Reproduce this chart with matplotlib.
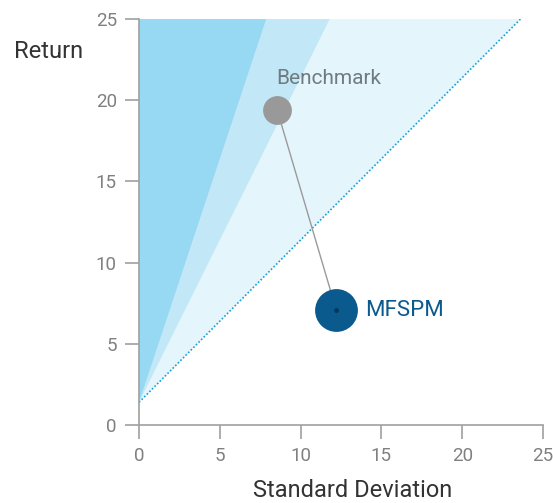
import numpy as np
import matplotlib.pyplot as plt

plt.rcParams['font.family'] = ['Roboto', 'DejaVu Sans']

# Sharpe-style lines from the risk-free rate
risk_free = 1.4
slopes = [3.0, 2.0, 1.0]
wedge_colors = ['#97d9f2', '#c2e8f7', '#e5f5fc']

# points (standard deviation, return)
names = ['Benchmark', 'MFSPM']
std_dev = [8.55, 12.2]
returns = [19.4, 7.1]

ticks = [0, 5, 10, 15, 20, 25]

fig = plt.figure(figsize=(5.53, 5.03), dpi=100)
ax = fig.add_axes([0.2514, 0.155, 0.7306, 0.807])
ax.set_xlim(0, 25)
ax.set_ylim(0, 25)

top = 25
# wedges between the y axis and each line, lightest drawn first
for s, c in reversed(list(zip(slopes, wedge_colors))):
    x_top = (top - risk_free) / s
    ax.fill([0, x_top, 0], [risk_free, top, top], color=c, lw=0, zorder=1)

x_end = (top - risk_free) / slopes[-1]
ax.plot([0, x_end], [risk_free, top], color='#1a9fd6', lw=1.2, ls=(0, (1, 1.2)), zorder=2)

# connecting line and points
ax.plot(std_dev, returns, color='#9a9a9a', lw=1, zorder=3)
ax.scatter([std_dev[0]], [returns[0]], s=430, color='#999999', lw=0, zorder=4)
ax.scatter([std_dev[1]], [returns[1]], s=950, color='#0b5a8e', lw=0, zorder=4)
ax.scatter([std_dev[1]], [returns[1]], s=12, color='#06365a', lw=0, zorder=5)

ax.text(std_dev[0] + 3.2, returns[0] + 1.95, names[0], color='#6f7b80',
        fontsize=15, ha='center', va='center')
ax.text(std_dev[1] + 1.8, returns[1] - 0.05, names[1], color='#0b5a8e',
        fontsize=16, ha='left', va='center')

for side in ['top', 'right']:
    ax.spines[side].set_visible(False)
for side in ['left', 'bottom']:
    ax.spines[side].set_color('#a0a0a0')
    ax.spines[side].set_linewidth(1.2)

ax.set_xticks(ticks)
ax.set_yticks(ticks)
ax.tick_params(axis='both', colors='#a0a0a0', length=10, width=1.2,
               labelcolor='#808080', labelsize=13.5, pad=6)

fig.text(0.025, 0.897, 'Return', fontsize=17, color='#333333',
         ha='left', va='center')
fig.text(0.638, 0.024, 'Standard Deviation', fontsize=17,
         color='#333333', ha='center', va='center')

fig.savefig('out.png', dpi=100)
